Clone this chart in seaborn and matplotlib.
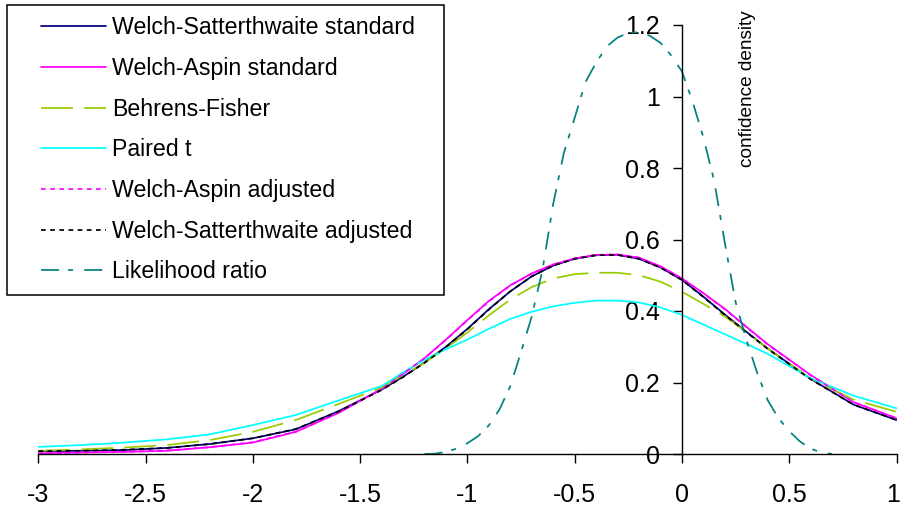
import matplotlib
matplotlib.use("Agg")
import matplotlib.pyplot as plt
import matplotlib.transforms as mtransforms
from matplotlib.patches import Rectangle
import pandas as pd
import seaborn as sns

# Grid of mean-difference values for the broad confidence densities
x_grid = [-3.0, -2.8, -2.6, -2.4, -2.2, -2.0, -1.8, -1.6, -1.4, -1.3, -1.2, -1.1,
          -1.0, -0.9, -0.8, -0.7, -0.6, -0.5, -0.4, -0.3, -0.2, -0.1, 0.0,
          0.1, 0.2, 0.3, 0.4, 0.6, 0.8, 1.0]

ws_standard = [0.008, 0.009, 0.011, 0.017, 0.028, 0.044, 0.069, 0.120, 0.180, 0.216, 0.256, 0.300,
               0.350, 0.405, 0.455, 0.497, 0.527, 0.546, 0.556, 0.557, 0.546, 0.522, 0.487,
               0.440, 0.390, 0.342, 0.295, 0.210, 0.138, 0.095]
wa_standard = [0.002, 0.004, 0.006, 0.009, 0.019, 0.032, 0.062, 0.115, 0.182, 0.224, 0.268, 0.320,
               0.375, 0.428, 0.472, 0.505, 0.530, 0.547, 0.557, 0.558, 0.549, 0.525, 0.491,
               0.450, 0.406, 0.356, 0.307, 0.221, 0.145, 0.100]
behrens_fisher = [0.009, 0.013, 0.018, 0.025, 0.039, 0.062, 0.095, 0.140, 0.186, 0.220, 0.255, 0.296,
                  0.340, 0.388, 0.432, 0.467, 0.491, 0.503, 0.507, 0.507, 0.500, 0.482, 0.454,
                  0.420, 0.385, 0.341, 0.295, 0.211, 0.152, 0.118]
paired_t = [0.020, 0.025, 0.032, 0.041, 0.055, 0.081, 0.109, 0.150, 0.190, 0.228, 0.264, 0.293,
            0.320, 0.350, 0.378, 0.398, 0.413, 0.423, 0.429, 0.429, 0.424, 0.410, 0.389,
            0.362, 0.335, 0.308, 0.280, 0.212, 0.163, 0.128]
wa_adjusted = [0.002, 0.004, 0.006, 0.010, 0.019, 0.033, 0.062, 0.116, 0.182, 0.224, 0.268, 0.319,
               0.374, 0.427, 0.471, 0.505, 0.530, 0.547, 0.557, 0.558, 0.549, 0.524, 0.490,
               0.449, 0.405, 0.355, 0.306, 0.220, 0.145, 0.100]
ws_adjusted = [0.008, 0.009, 0.012, 0.017, 0.028, 0.044, 0.070, 0.119, 0.179, 0.215, 0.255, 0.299,
               0.349, 0.404, 0.455, 0.497, 0.527, 0.546, 0.556, 0.557, 0.546, 0.521, 0.487,
               0.439, 0.389, 0.341, 0.294, 0.209, 0.138, 0.095]

# Finer grid for the sharply peaked likelihood-ratio density
lr_x = [-1.20, -1.15, -1.10, -1.05, -1.00, -0.95, -0.90, -0.85, -0.80, -0.75,
        -0.70, -0.65, -0.60, -0.55, -0.50, -0.45, -0.40, -0.35, -0.30, -0.25,
        -0.20, -0.15, -0.10, -0.05, 0.00, 0.05, 0.10, 0.15, 0.20, 0.25,
        0.30, 0.35, 0.40, 0.45, 0.50, 0.55, 0.60, 0.65, 0.70]
likelihood_ratio = [0.000, 0.001, 0.006, 0.015, 0.030, 0.050, 0.080, 0.125, 0.190, 0.285,
                    0.385, 0.515, 0.700, 0.843, 0.940, 1.040, 1.095, 1.140, 1.165, 1.178,
                    1.180, 1.170, 1.150, 1.115, 1.070, 0.985, 0.885, 0.765, 0.590, 0.425,
                    0.320, 0.228, 0.150, 0.100, 0.064, 0.035, 0.015, 0.004, 0.000]

methods = ["Welch-Satterthwaite standard", "Welch-Aspin standard", "Behrens-Fisher",
           "Paired t", "Welch-Aspin adjusted", "Welch-Satterthwaite adjusted",
           "Likelihood ratio"]

x_ticks = [-3, -2.5, -2, -1.5, -1, -0.5, 0, 0.5, 1]
x_tick_labels = ["-3", "-2.5", "-2", "-1.5", "-1", "-0.5", "0", "0.5", "1"]
y_ticks = [0, 0.2, 0.4, 0.6, 0.8, 1.0, 1.2]
y_tick_labels = ["0", "0.2", "0.4", "0.6", "0.8", "1", "1.2"]

series = [
    (x_grid, ws_standard), (x_grid, wa_standard), (x_grid, behrens_fisher),
    (x_grid, paired_t), (x_grid, wa_adjusted), (x_grid, ws_adjusted),
    (lr_x, likelihood_ratio),
]
df = pd.concat(
    [pd.DataFrame({"mu": xs, "density": ys, "method": name})
     for name, (xs, ys) in zip(methods, series)],
    ignore_index=True,
)

palette = {
    "Welch-Satterthwaite standard": "#000080",
    "Welch-Aspin standard": "#FF00FF",
    "Behrens-Fisher": "#99CC00",
    "Paired t": "#00FFFF",
    "Welch-Aspin adjusted": "#FF00FF",
    "Welch-Satterthwaite adjusted": "#000000",
    "Likelihood ratio": "#008080",
}
dash_map = {
    "Welch-Satterthwaite standard": "",
    "Welch-Aspin standard": "",
    "Behrens-Fisher": (23, 8),
    "Paired t": "",
    "Welch-Aspin adjusted": (3.4, 3.2),
    "Welch-Satterthwaite adjusted": (3.4, 3.2),
    "Likelihood ratio": (13, 6.5, 3.6, 8),
}

sns.set_theme(style="white")
plt.rcParams["font.family"] = ["Liberation Sans", "DejaVu Sans"]
plt.rcParams["lines.scale_dashes"] = False
plt.rcParams["axes.unicode_minus"] = False

W, H = 901, 509
fig = plt.figure(figsize=(W / 100, H / 100), dpi=100)
fig.patch.set_facecolor("white")
x0_px, x1_px, y0_px, y1_px = 38.3, 896.5, 454.0, 25.0
ax = fig.add_axes([x0_px / W, 1 - y0_px / H, (x1_px - x0_px) / W, (y0_px - y1_px) / H])

sns.lineplot(data=df, x="mu", y="density", hue="method", style="method",
             hue_order=methods, style_order=methods, palette=palette,
             dashes=dash_map, linewidth=1.25, estimator=None, sort=False,
             legend=False, ax=ax)

ax.set_xlim(-3, 1)
ax.set_ylim(0, 1.2)
ax.set_facecolor("white")
ax.grid(False)

# Axes cross at the origin, Excel style
ax.spines["left"].set_position(("data", 0))
ax.spines["top"].set_visible(False)
ax.spines["right"].set_visible(False)
for side in ("left", "bottom"):
    ax.spines[side].set_color("black")
    ax.spines[side].set_linewidth(1.0)

ax.set_xticks(x_ticks)
ax.set_xticklabels(x_tick_labels)
ax.set_yticks(y_ticks)
ax.set_yticklabels(y_tick_labels)
ax.tick_params(axis="both", direction="out", length=6.8, width=1.0, color="black",
               labelsize=18, labelcolor="black")
ax.tick_params(axis="x", pad=14)
ax.tick_params(axis="y", pad=9)
ax.tick_params(left=True, bottom=True)

# Keep the last x tick label inside the figure edge
last_label = ax.get_xticklabels()[-1]
last_label.set_transform(last_label.get_transform()
                         + mtransforms.ScaledTranslation(-0.035, 0, fig.dpi_scale_trans))

ax.set_xlabel("")
ax.set_ylabel("confidence density", fontsize=13.7, color="black")
ax.yaxis.set_label_coords((748 - x0_px) / (x1_px - x0_px), (y0_px - 89) / (y0_px - y1_px))
ax.yaxis.label.set_verticalalignment("center")

# Legend with a hand-placed frame
box = Rectangle((7 / W, 1 - 295 / H), 437 / W, 290 / H, transform=fig.transFigure,
                facecolor="white", edgecolor="black", linewidth=1.1, clip_on=False,
                zorder=4)
ax.add_patch(box)
fs_pt = 16.7
fs_px = fs_pt / 0.72
leg = ax.legend(ax.lines[:len(methods)], methods, loc="upper left",
                bbox_to_anchor=(41 / W, 1 - 16.5 / H), bbox_transform=fig.transFigure,
                frameon=False, borderpad=0, borderaxespad=0, fontsize=fs_pt,
                handlelength=65 / fs_px, handletextpad=6 / fs_px,
                labelspacing=0.76)
leg.set_zorder(5)
for t in leg.get_texts():
    t.set_color("black")

fig.savefig("out.png", dpi=100, facecolor="white")
